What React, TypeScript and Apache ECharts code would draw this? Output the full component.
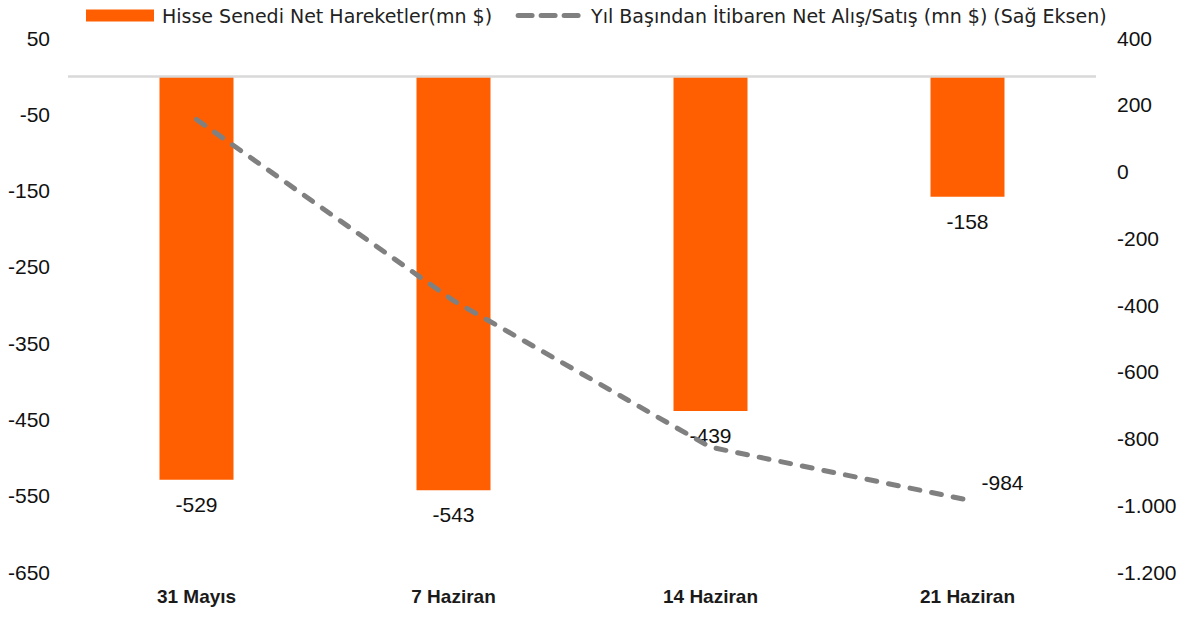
import React, { useEffect, useRef } from "react";
import * as echarts from "echarts";

const categories = ["31 Mayıs", "7 Haziran", "14 Haziran", "21 Haziran"];
const weeklyFlows = [-529, -543, -439, -158];
const cumulativeFlows = [156, -387, -826, -984];
const barName = "Hisse Senedi Net Hareketler(mn $)";
const lineName = "Yıl Başından İtibaren Net Alış/Satış (mn $) (Sağ Eksen)";

const LEGEND_FONT = "DejaVu Sans";
const NUM_FONT = "Liberation Sans";

const dashIcon =
  "path://M0,0L0.01,0L0.01,0.01Z M68,12L67.99,12L67.99,11.99Z " +
  "M3,3.5H17A2.5,2.5 0 0 1 17,8.5H3A2.5,2.5 0 0 1 3,3.5Z " +
  "M26,3.5H40A2.5,2.5 0 0 1 40,8.5H26A2.5,2.5 0 0 1 26,3.5Z " +
  "M49,3.5H63A2.5,2.5 0 0 1 63,8.5H49A2.5,2.5 0 0 1 49,3.5Z";

export default function App() {
  const ref = useRef<HTMLDivElement>(null);
  useEffect(() => {
    document.body.style.margin = "0";
    const chart = echarts.init(ref.current!, undefined, { renderer: "svg" });
    chart.setOption({
      animation: false,
      backgroundColor: "#ffffff",
      textStyle: { fontFamily: NUM_FONT },
      legend: {
        left: 81,
        top: 1,
        itemWidth: 68,
        itemHeight: 12,
        itemGap: 23,
        textStyle: {
          fontFamily: LEGEND_FONT,
          fontSize: 19,
          color: "#222",
          padding: [0, 0, 0, 3],
        },
        data: [
          { name: barName, icon: "rect" },
          { name: lineName, icon: dashIcon },
        ],
      },
      grid: { left: 68, right: 93, top: 38, bottom: 45 },
      xAxis: {
        type: "category",
        data: categories,
        axisLine: { show: false },
        axisTick: { show: false },
        axisLabel: {
          fontFamily: NUM_FONT,
          fontWeight: "bold",
          fontSize: 19,
          color: "#1a1a1a",
          margin: 15,
        },
      },
      yAxis: [
        {
          type: "value",
          min: -650,
          max: 50,
          interval: 100,
          splitLine: { show: false },
          axisLine: { show: false },
          axisTick: { show: false },
          axisLabel: { fontFamily: NUM_FONT, fontSize: 21, color: "#111", margin: 18 },
        },
        {
          type: "value",
          min: -1200,
          max: 400,
          interval: 200,
          position: "right",
          splitLine: { show: false },
          axisLine: { show: false },
          axisTick: { show: false },
          axisLabel: {
            fontFamily: NUM_FONT,
            fontSize: 21,
            color: "#111",
            margin: 21,
            formatter: (v: number) => {
              const s = Math.abs(v).toString().replace(/\B(?=(\d{3})+(?!\d))/g, ".");
              return (v < 0 ? "-" : "") + s;
            },
          },
        },
      ],
      series: [
        {
          name: barName,
          type: "bar",
          data: weeklyFlows,
          yAxisIndex: 0,
          barWidth: 74,
          itemStyle: { color: "#ff5f00" },
          label: {
            show: true,
            position: "bottom",
            distance: 14,
            fontFamily: NUM_FONT,
            fontSize: 21,
            color: "#111",
          },
          markLine: {
            silent: true,
            symbol: "none",
            label: { show: false },
            lineStyle: { color: "#d9d9d9", width: 2.5, type: "solid" },
            data: [{ yAxis: 0 }],
          },
          z: 2,
        },
        {
          name: lineName,
          type: "line",
          data: cumulativeFlows.map((v, i) =>
            i === cumulativeFlows.length - 1
              ? {
                  value: v,
                  label: {
                    show: true,
                    position: "right",
                    distance: 14,
                    offset: [0, -17],
                    fontFamily: NUM_FONT,
                    fontSize: 21,
                    color: "#111",
                  },
                }
              : v
          ),
          yAxisIndex: 1,
          symbol: "circle",
          symbolSize: 0,
          showSymbol: true,
          lineStyle: { color: "#808080", width: 5, type: [10, 12], cap: "round" },
          itemStyle: { color: "#808080" },
          z: 3,
        },
      ],
    });
    return () => chart.dispose();
  }, []);
  return <div ref={ref} style={{ width: 1189, height: 617 }} />;
}
